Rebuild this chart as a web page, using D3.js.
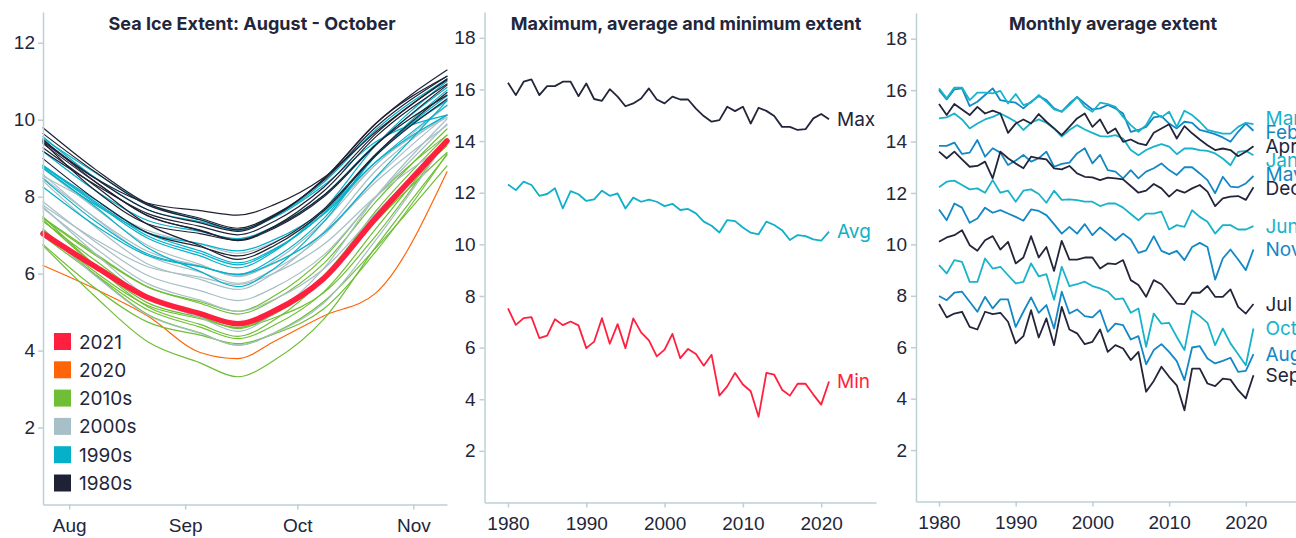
<!DOCTYPE html>
<html>
<head>
<meta charset="utf-8">
<script src="https://cdn.jsdelivr.net/npm/d3@7"></script>
<style>
  body { margin: 0; background: #fff; }
  svg { display: block; font-family: Inter, "Liberation Sans", sans-serif; }
</style>
</head>
<body>
<svg width="1296" height="538"></svg>
<script>
// ---- panel 1: daily extent, Jul 25 - Nov 10, one curve per year ----
var seasonDates = ['2021-07-25', '2021-08-08', '2021-08-22', '2021-09-05', '2021-09-15',
    '2021-09-25', '2021-10-08', '2021-10-22', '2021-11-10'];
var seasonYears = [1980, 1981, 1982, 1983, 1984, 1985, 1986, 1987, 1988, 1989,
    1990, 1991, 1992, 1993, 1994, 1995, 1996, 1997, 1998, 1999,
    2000, 2001, 2002, 2003, 2004, 2005, 2006, 2007, 2008, 2009,
    2010, 2011, 2012, 2013, 2014, 2015, 2016, 2017, 2018, 2019, 2020, 2021];
var seasonExtent = [
    [9.43, 8.48, 7.83, 7.64, 7.52, 7.80, 8.49, 9.69, 11.06],
    [9.49, 8.39, 7.50, 7.13, 6.88, 7.22, 8.03, 9.35, 10.64],
    [9.64, 8.64, 7.78, 7.40, 7.14, 7.52, 8.45, 9.90, 11.29],
    [9.79, 8.71, 7.82, 7.44, 7.18, 7.54, 8.42, 9.81, 11.13],
    [9.27, 8.28, 7.28, 6.73, 6.37, 6.74, 7.63, 9.07, 10.54],
    [8.99, 7.93, 7.06, 6.70, 6.46, 6.81, 7.67, 9.11, 10.71],
    [9.46, 8.47, 7.66, 7.32, 7.10, 7.50, 8.46, 9.91, 11.13],
    [9.42, 8.16, 7.29, 7.04, 6.87, 7.24, 8.14, 9.56, 10.93],
    [9.18, 8.31, 7.56, 7.23, 7.01, 7.37, 8.24, 9.64, 11.03],
    [9.38, 8.38, 7.51, 7.12, 6.86, 7.19, 7.99, 9.35, 10.90],
    [8.47, 7.36, 6.51, 6.19, 5.98, 6.41, 7.43, 9.08, 10.77],
    [8.82, 7.87, 6.98, 6.53, 6.23, 6.62, 7.57, 9.09, 10.62],
    [9.56, 8.49, 7.66, 7.35, 7.14, 7.50, 8.37, 9.74, 11.06],
    [8.80, 7.83, 6.92, 6.46, 6.15, 6.59, 7.66, 9.34, 11.00],
    [9.18, 8.16, 7.38, 7.10, 6.91, 7.24, 8.03, 9.37, 10.84],
    [8.25, 7.25, 6.47, 6.18, 5.98, 6.29, 7.05, 8.51, 10.49],
    [9.51, 8.62, 7.80, 7.40, 7.13, 7.47, 8.29, 9.43, 10.12],
    [8.74, 7.79, 7.06, 6.78, 6.59, 6.89, 7.63, 8.91, 10.38],
    [8.79, 7.92, 7.05, 6.59, 6.28, 6.65, 7.54, 8.90, 10.12],
    [8.76, 7.74, 6.67, 6.06, 5.66, 6.15, 7.34, 9.07, 10.49],
    [8.74, 7.70, 6.73, 6.24, 5.92, 6.34, 7.35, 8.84, 10.06],
    [8.54, 7.81, 7.12, 6.77, 6.53, 6.83, 7.55, 8.84, 10.36],
    [8.41, 7.21, 6.25, 5.85, 5.59, 6.03, 7.08, 8.68, 10.12],
    [8.49, 7.45, 6.58, 6.20, 5.95, 6.27, 7.06, 8.39, 9.86],
    [8.58, 7.44, 6.47, 6.04, 5.75, 6.12, 7.00, 8.48, 10.12],
    [7.87, 6.83, 5.95, 5.56, 5.30, 5.65, 6.48, 8.00, 9.89],
    [7.78, 6.89, 6.18, 5.91, 5.72, 6.02, 6.76, 8.01, 9.37],
    [7.12, 5.94, 4.92, 4.45, 4.14, 4.46, 5.23, 6.88, 9.47],
    [7.74, 6.52, 5.40, 4.86, 4.50, 4.98, 6.13, 8.00, 10.02],
    [7.70, 6.66, 5.74, 5.31, 5.02, 5.34, 6.12, 7.57, 9.45],
    [7.36, 6.34, 5.38, 4.90, 4.57, 4.98, 5.95, 7.56, 9.32],
    [6.98, 5.98, 5.06, 4.61, 4.31, 4.67, 5.52, 7.17, 9.45],
    [6.73, 5.40, 4.23, 3.68, 3.32, 3.76, 4.81, 6.70, 9.09],
    [7.44, 6.48, 5.65, 5.27, 5.02, 5.43, 6.41, 7.99, 9.60],
    [7.45, 6.52, 5.66, 5.23, 4.95, 5.33, 6.26, 7.87, 9.76],
    [7.48, 6.21, 5.14, 4.68, 4.37, 4.81, 5.87, 7.63, 9.60],
    [7.13, 5.97, 4.94, 4.46, 4.14, 4.47, 5.27, 6.67, 8.80],
    [7.16, 6.04, 5.17, 4.83, 4.60, 4.96, 5.84, 7.36, 9.15],
    [7.40, 6.20, 5.24, 4.86, 4.60, 4.86, 5.50, 6.99, 9.50],
    [6.76, 5.62, 4.74, 4.40, 4.18, 4.44, 5.08, 6.58, 9.11],
    [6.21, 5.60, 4.90, 3.95, 3.79, 4.25, 4.90, 5.50, 8.65],
    [7.04, 6.18, 5.38, 4.96, 4.70, 5.04, 5.87, 7.45, 9.45]
];
var legendLabels = ['2021', '2020', '2010s', '2000s', '1990s', '1980s'];
var legendColors = ['#ff1f3f', '#ff6408', '#6fbe35', '#a7bfc6', '#06b0c9', '#1f2234'];

// ---- panel 2: yearly max / avg / min ----
var years = [1980, 1981, 1982, 1983, 1984, 1985, 1986, 1987, 1988, 1989,
    1990, 1991, 1992, 1993, 1994, 1995, 1996, 1997, 1998, 1999,
    2000, 2001, 2002, 2003, 2004, 2005, 2006, 2007, 2008, 2009,
    2010, 2011, 2012, 2013, 2014, 2015, 2016, 2017, 2018, 2019, 2020, 2021];
var maxExtent = [16.26, 15.78, 16.30, 16.39, 15.78, 16.13, 16.13, 16.30, 16.30, 15.74,
    16.23, 15.63, 15.56, 16.01, 15.72, 15.35, 15.46, 15.65, 16.04, 15.61,
    15.46, 15.72, 15.61, 15.61, 15.26, 14.97, 14.75, 14.81, 15.33, 15.16,
    15.33, 14.68, 15.29, 15.17, 14.97, 14.55, 14.55, 14.43, 14.46, 14.88, 15.05, 14.85];
var avgExtent = [12.32, 12.10, 12.43, 12.30, 11.88, 11.95, 12.17, 11.39, 12.06, 11.94,
    11.68, 11.74, 12.08, 11.88, 11.97, 11.39, 11.81, 11.65, 11.73, 11.65,
    11.48, 11.57, 11.33, 11.37, 11.20, 10.88, 10.72, 10.46, 10.94, 10.90,
    10.65, 10.45, 10.39, 10.88, 10.75, 10.55, 10.17, 10.36, 10.32, 10.19, 10.14, 10.49];
var minExtent = [7.52, 6.88, 7.14, 7.18, 6.37, 6.46, 7.10, 6.87, 7.01, 6.86,
    5.98, 6.23, 7.14, 6.15, 6.91, 5.98, 7.13, 6.59, 6.28, 5.66,
    5.92, 6.53, 5.59, 5.95, 5.75, 5.30, 5.72, 4.14, 4.50, 5.02,
    4.57, 4.31, 3.32, 5.02, 4.95, 4.37, 4.14, 4.60, 4.60, 4.18, 3.79, 4.69];
var statLabels = ['Max', 'Avg', 'Min'];
var statColors = ['#23263a', '#0fb0c8', '#ff1f3f'];

// ---- panel 3: monthly averages ----
var monthNames = ['Jan', 'Feb', 'Mar', 'Apr', 'May', 'Jun', 'Jul', 'Aug', 'Sep', 'Oct', 'Nov', 'Dec'];
var monthColors = ['#18b3cb', '#1487c5', '#18b3cb', '#23263a', '#1487c5', '#18b3cb',
    '#23263a', '#1487c5', '#23263a', '#18b3cb', '#1487c5', '#23263a'];
var janExtent = [14.90, 14.94, 15.09, 14.86, 14.51, 14.70, 14.86, 14.96, 15.09, 14.94, 14.77, 14.45, 14.73, 14.86, 14.73, 14.51, 14.19, 14.45, 14.64, 14.47, 14.34, 14.21, 14.19, 14.25, 14.12, 13.67, 13.47, 13.67, 13.80, 13.90, 13.80, 13.51, 13.73, 13.73, 13.67, 13.64, 13.54, 13.34, 13.08, 13.60, 13.64, 13.47];
var febExtent = [16.00, 15.64, 16.03, 16.07, 15.38, 15.55, 15.81, 16.07, 15.61, 15.55, 15.51, 15.29, 15.55, 15.77, 15.61, 15.29, 15.16, 15.48, 15.74, 15.48, 15.25, 15.29, 15.42, 15.29, 15.09, 14.38, 14.45, 14.57, 14.94, 14.99, 14.70, 14.51, 14.77, 14.73, 14.45, 14.38, 14.29, 14.16, 13.99, 14.38, 14.70, 14.42];
var marExtent = [16.07, 15.68, 16.10, 16.10, 15.61, 15.90, 15.90, 15.87, 15.97, 15.48, 15.85, 15.42, 15.51, 15.81, 15.55, 15.25, 15.16, 15.42, 15.74, 15.35, 15.16, 15.51, 15.46, 15.35, 14.96, 14.64, 14.38, 14.64, 15.16, 14.94, 15.16, 14.57, 15.20, 15.03, 14.77, 14.45, 14.38, 14.31, 14.31, 14.57, 14.73, 14.68];
var aprExtent = [15.46, 15.03, 15.46, 15.25, 15.03, 15.35, 15.09, 15.20, 15.09, 14.34, 14.70, 14.86, 14.70, 15.07, 14.77, 14.51, 14.25, 14.57, 14.90, 15.09, 14.57, 14.86, 14.32, 14.51, 13.99, 14.08, 13.93, 13.86, 14.34, 14.51, 14.67, 14.12, 14.60, 14.32, 14.08, 13.86, 13.67, 13.73, 13.67, 13.43, 13.60, 13.82];
var mayExtent = [13.83, 13.83, 13.96, 13.52, 13.57, 14.06, 13.41, 13.74, 13.57, 13.09, 13.26, 13.48, 13.22, 13.35, 13.61, 13.02, 13.13, 13.18, 13.54, 13.74, 13.15, 13.48, 12.89, 12.83, 12.57, 12.89, 12.57, 12.83, 12.96, 13.15, 12.89, 12.70, 13.00, 13.00, 12.76, 12.50, 11.99, 12.63, 12.25, 12.22, 12.37, 12.66];
var junExtent = [12.22, 12.44, 12.48, 12.31, 12.14, 12.18, 12.01, 12.50, 12.01, 12.09, 11.66, 12.09, 12.14, 11.96, 11.62, 12.09, 11.73, 11.75, 11.72, 11.66, 11.66, 11.49, 11.59, 11.59, 11.43, 11.18, 10.94, 11.20, 11.20, 11.27, 10.58, 10.75, 10.68, 11.33, 11.07, 10.88, 10.42, 10.75, 10.75, 10.58, 10.58, 10.71];
var julExtent = [10.10, 10.27, 10.36, 10.55, 9.97, 9.75, 10.16, 10.32, 9.80, 10.10, 9.26, 9.49, 10.32, 9.49, 9.90, 8.97, 10.14, 9.41, 9.41, 9.49, 9.49, 9.06, 9.26, 9.23, 9.39, 8.61, 8.42, 7.96, 8.61, 8.45, 8.09, 7.70, 7.68, 8.12, 8.12, 8.38, 7.96, 7.96, 8.25, 7.57, 7.31, 7.68];
var augExtent = [7.99, 7.83, 8.12, 8.16, 7.77, 7.38, 7.96, 7.51, 7.86, 7.86, 6.79, 7.38, 7.94, 7.34, 7.64, 6.73, 8.16, 7.31, 7.47, 7.21, 7.16, 7.44, 6.60, 6.92, 6.86, 6.30, 6.43, 5.34, 5.89, 6.12, 5.82, 5.46, 4.72, 5.99, 6.04, 5.56, 5.37, 5.47, 5.59, 5.04, 5.08, 5.73];
var sepExtent = [7.68, 7.16, 7.31, 7.38, 6.79, 6.69, 7.38, 7.29, 7.34, 6.99, 6.15, 6.43, 7.44, 6.38, 7.12, 6.08, 7.57, 6.69, 6.54, 6.12, 6.21, 6.69, 5.82, 6.08, 5.95, 5.50, 5.82, 4.27, 4.69, 5.24, 4.85, 4.52, 3.55, 5.17, 5.17, 4.59, 4.49, 4.78, 4.74, 4.33, 4.01, 4.91];
var octExtent = [9.19, 8.87, 9.39, 9.32, 8.54, 8.54, 9.45, 9.06, 9.13, 8.80, 8.48, 8.54, 9.26, 8.76, 8.84, 7.85, 9.13, 8.38, 8.45, 8.55, 8.38, 8.29, 8.16, 7.86, 7.90, 7.34, 7.51, 6.02, 7.31, 6.92, 6.95, 6.40, 5.89, 7.42, 7.21, 6.95, 6.08, 6.73, 6.15, 5.73, 5.30, 6.73];
var novExtent = [11.36, 10.94, 11.59, 11.43, 10.84, 11.01, 11.43, 11.23, 11.33, 11.20, 11.07, 10.92, 11.36, 11.30, 11.14, 10.79, 10.42, 10.68, 10.42, 10.79, 10.36, 10.66, 10.42, 10.16, 10.42, 10.19, 9.67, 9.77, 10.32, 9.75, 9.62, 9.75, 9.39, 9.90, 10.06, 9.90, 8.63, 9.45, 9.80, 9.41, 9.00, 9.80];
var decExtent = [13.61, 13.35, 13.61, 13.31, 13.02, 13.05, 13.22, 12.57, 13.61, 13.35, 13.15, 12.96, 13.41, 13.35, 13.31, 12.96, 12.92, 13.05, 12.76, 12.63, 12.61, 12.50, 12.60, 12.57, 12.53, 12.27, 12.01, 12.09, 12.35, 12.18, 11.86, 12.12, 12.01, 12.18, 12.31, 12.05, 11.49, 11.79, 11.86, 11.88, 11.73, 12.22];

var ink = '#23263a';
var axisGrey = '#bdd0d5';
var labelSize = '19px';
var svg = d3.select('svg');

function styleAxis(g) {
    g.select('.domain').attr('stroke', axisGrey).attr('stroke-width', 1.5);
    g.selectAll('.tick line').attr('stroke', axisGrey).attr('stroke-width', 1.5);
    g.selectAll('.tick text').attr('fill', ink).style('font-size', labelSize);
}

function title(x, text) {
    svg.append('text')
        .attr('x', x).attr('y', 30)
        .attr('text-anchor', 'middle')
        .attr('fill', ink)
        .style('font-size', '18px')
        .style('font-weight', 700)
        .text(text);
}

// ================= panel 1 =================
var parseDay = d3.timeParse('%Y-%m-%d');
var days = seasonDates.map(parseDay);
var x1 = d3.scaleTime().domain([parseDay('2021-07-25'), parseDay('2021-11-10')]).range([43, 447]);
var y1 = d3.scaleLinear().domain([0, 12.8]).range([504.5, 12]);

function yearColor(year) {
    if (year === 2021) return legendColors[0];
    if (year === 2020) return legendColors[1];
    var decade = Math.floor(year / 10) * 10 + 's';
    return legendColors[legendLabels.indexOf(decade)];
}

var seasonLine = d3.line()
    .x(function (d, i) { return x1(days[i]); })
    .y(function (d) { return y1(d); })
    .curve(d3.curveMonotoneX);

// older years drawn last so they sit on top, 2021 above everything
var order = seasonYears.map(function (y, i) { return i; })
    .filter(function (i) { return seasonYears[i] !== 2021; })
    .reverse();
order.push(seasonYears.indexOf(2021));

svg.append('g').selectAll('path')
    .data(order)
    .enter().append('path')
    .attr('d', function (i) { return seasonLine(seasonExtent[i]); })
    .attr('fill', 'none')
    .attr('stroke', function (i) { return yearColor(seasonYears[i]); })
    .attr('stroke-width', function (i) { return seasonYears[i] === 2021 ? 5.5 : 1.2; })
    .attr('stroke-linejoin', 'round')
    .attr('stroke-linecap', 'round');

svg.append('g').attr('transform', 'translate(43,0)')
    .call(d3.axisLeft(y1).tickValues([2, 4, 6, 8, 10, 12]).tickSize(5).tickPadding(3).tickSizeOuter(0))
    .call(styleAxis);
svg.append('g').attr('transform', 'translate(0,504.5)')
    .call(d3.axisBottom(x1).ticks(d3.timeMonth.every(1)).tickFormat(d3.timeFormat('%b'))
        .tickSize(5).tickPadding(9).tickSizeOuter(0))
    .call(styleAxis);

var legend = svg.append('g').selectAll('g')
    .data(legendLabels)
    .enter().append('g')
    .attr('transform', function (d, i) { return 'translate(54,' + (333 + i * 28.3) + ')'; });
legend.append('rect')
    .attr('width', 17).attr('height', 17)
    .attr('fill', function (d, i) { return legendColors[i]; });
legend.append('text')
    .attr('x', 25).attr('y', 15.5)
    .attr('fill', ink)
    .style('font-size', labelSize)
    .text(function (d) { return d; });

title(252, 'Sea Ice Extent: August - October');

// ================= panel 2 =================
var x2 = d3.scaleLinear().domain([1977, 2027]).range([484.5, 876]);
var y2 = d3.scaleLinear().domain([0, 19]).range([502.5, 12]);
var stats = [maxExtent, avgExtent, minExtent];

var yearLine2 = d3.line()
    .x(function (d, i) { return x2(years[i]); })
    .y(function (d) { return y2(d); });

svg.append('g').selectAll('path')
    .data(stats)
    .enter().append('path')
    .attr('d', yearLine2)
    .attr('fill', 'none')
    .attr('stroke', function (d, i) { return statColors[i]; })
    .attr('stroke-width', 1.8)
    .attr('stroke-linejoin', 'round');

svg.append('g').selectAll('text')
    .data(stats)
    .enter().append('text')
    .attr('x', x2(years[years.length - 1]) + 8)
    .attr('y', function (d) { return y2(d[d.length - 1]); })
    .attr('dy', '0.35em')
    .attr('fill', function (d, i) { return statColors[i]; })
    .style('font-size', labelSize)
    .text(function (d, i) { return statLabels[i]; });

svg.append('g').attr('transform', 'translate(484.5,0)')
    .call(d3.axisLeft(y2).tickValues([2, 4, 6, 8, 10, 12, 14, 16, 18]).tickSize(5).tickPadding(4).tickSizeOuter(0))
    .call(styleAxis);
svg.append('g').attr('transform', 'translate(0,502.5)')
    .call(d3.axisBottom(x2).tickValues([1980, 1990, 2000, 2010, 2020]).tickFormat(d3.format('d'))
        .tickSize(5).tickPadding(9).tickSizeOuter(0))
    .call(styleAxis);

title(686, 'Maximum, average and minimum extent');

// ================= panel 3 =================
var x3 = d3.scaleLinear().domain([1977, 2027]).range([916, 1299.5]);
var y3 = d3.scaleLinear().domain([0, 19]).range([501.5, 13]);
var monthly = [janExtent, febExtent, marExtent, aprExtent, mayExtent, junExtent,
    julExtent, augExtent, sepExtent, octExtent, novExtent, decExtent];

var yearLine3 = d3.line()
    .x(function (d, i) { return x3(years[i]); })
    .y(function (d) { return y3(d); });

svg.append('g').selectAll('path')
    .data(monthly)
    .enter().append('path')
    .attr('d', yearLine3)
    .attr('fill', 'none')
    .attr('stroke', function (d, i) { return monthColors[i]; })
    .attr('stroke-width', 1.8)
    .attr('stroke-linejoin', 'round');

// month labels at the last value, nudged apart so they don't pile up
var labels = monthly.map(function (d, i) {
    return { name: monthNames[i], color: monthColors[i], y: y3(d[d.length - 1]) };
}).sort(function (a, b) { return a.y - b.y; });
for (var pass = 0; pass < 80; pass++) {
    for (var k = 1; k < labels.length; k++) {
        var gap = labels[k].y - labels[k - 1].y;
        if (gap < 14) {
            var push = (14 - gap) / 2;
            labels[k].y += push;
            labels[k - 1].y -= push;
        }
    }
}
svg.append('g').selectAll('text')
    .data(labels)
    .enter().append('text')
    .attr('x', x3(years[years.length - 1]) + 12)
    .attr('y', function (d) { return d.y; })
    .attr('dy', '0.35em')
    .attr('fill', function (d) { return d.color; })
    .style('font-size', labelSize)
    .text(function (d) { return d.name; });

svg.append('g').attr('transform', 'translate(916,0)')
    .call(d3.axisLeft(y3).tickValues([2, 4, 6, 8, 10, 12, 14, 16, 18]).tickSize(5).tickPadding(4).tickSizeOuter(0))
    .call(styleAxis);
svg.append('g').attr('transform', 'translate(0,501.5)')
    .call(d3.axisBottom(x3).tickValues([1980, 1990, 2000, 2010, 2020]).tickFormat(d3.format('d'))
        .tickSize(5).tickPadding(9).tickSizeOuter(0))
    .call(styleAxis);

title(1113, 'Monthly average extent');
</script>
</body>
</html>
